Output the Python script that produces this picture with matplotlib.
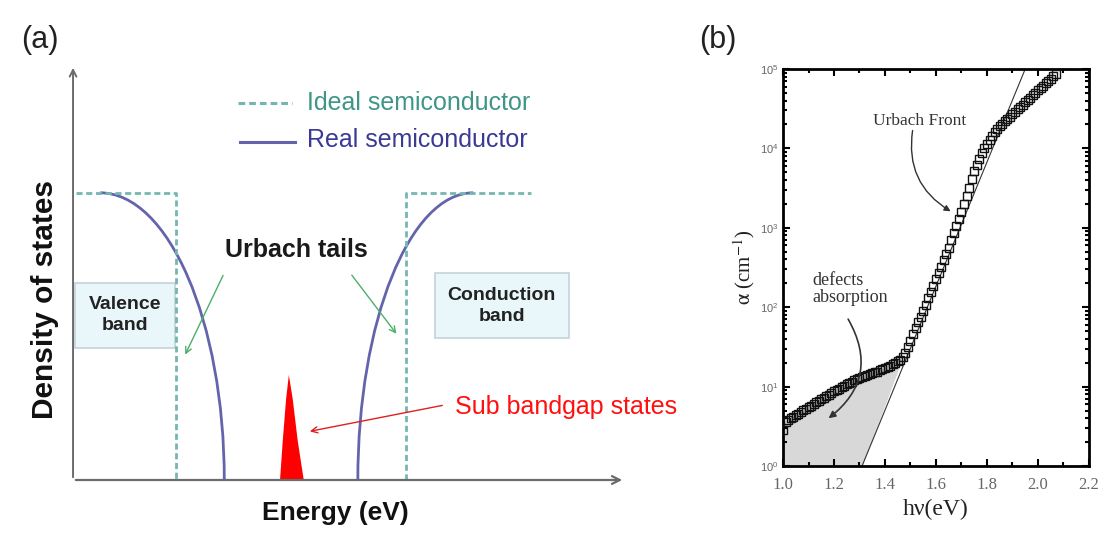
import numpy as np
import matplotlib
matplotlib.use("Agg")
import matplotlib.pyplot as plt
from matplotlib.path import Path
from matplotlib.patches import PathPatch, Rectangle, Polygon
from matplotlib.ticker import MultipleLocator, LogLocator, NullFormatter

plt.rcParams['font.family'] = ['Liberation Sans', 'DejaVu Sans']
plt.rcParams['mathtext.fontset'] = 'stix'

# ---------- panel (a): schematic density of states ----------
dos_top = 6.92
ideal_left_x = [0.05, 1.87, 1.87]
ideal_left_y = [dos_top, dos_top, 0.0]
ideal_right_x = [6.03, 6.03, 8.30]
ideal_right_y = [0.0, dos_top, dos_top]

# bezier control points of the Urbach tails (start, ctrl, ctrl, end)
real_left_x = [0.49, 1.73, 2.74, 2.74]
real_left_y = [dos_top, dos_top, 3.82, 0.0]
real_right_x = [5.16, 5.16, 6.10, 7.25]
real_right_y = [0.0, 3.82, dos_top, dos_top]

# sub bandgap peak outline
peak_x = [3.75, 3.80, 3.86, 3.91, 3.98, 4.07, 4.18]
peak_y = [0.0, 0.95, 1.95, 2.53, 1.95, 0.95, 0.0]

# ---------- panel (b): absorption edge ----------
hv = [1.00, 1.01, 1.02, 1.03, 1.04, 1.05, 1.06, 1.07, 1.08, 1.09,
      1.10, 1.11, 1.12, 1.13, 1.14, 1.15, 1.16, 1.17, 1.18, 1.19,
      1.20, 1.21, 1.22, 1.23, 1.24, 1.25, 1.26, 1.27, 1.28, 1.29,
      1.30, 1.31, 1.32, 1.33, 1.34, 1.35, 1.36, 1.37, 1.38, 1.39,
      1.40, 1.41, 1.42, 1.43, 1.44, 1.45, 1.46, 1.47, 1.48, 1.49,
      1.50, 1.51, 1.52, 1.53, 1.54, 1.55, 1.56, 1.57, 1.58, 1.59,
      1.60, 1.61, 1.62, 1.63, 1.64, 1.65, 1.66, 1.67, 1.68, 1.69,
      1.70, 1.71, 1.72, 1.73, 1.74, 1.75, 1.76, 1.77, 1.78, 1.79,
      1.80, 1.81, 1.82, 1.83, 1.84, 1.85, 1.86, 1.87, 1.88, 1.89,
      1.90, 1.91, 1.92, 1.93, 1.94, 1.95, 1.96, 1.97, 1.98, 1.99,
      2.00, 2.01, 2.02, 2.03, 2.04, 2.05, 2.06, 2.07]
log_alpha = [0.45, 0.55, 0.58, 0.60, 0.62, 0.64, 0.66, 0.68, 0.70, 0.72,
             0.74, 0.76, 0.78, 0.80, 0.82, 0.84, 0.86, 0.88, 0.90, 0.92,
             0.94, 0.96, 0.97, 0.99, 1.01, 1.03, 1.04, 1.06, 1.08, 1.09,
             1.11, 1.12, 1.13, 1.15, 1.16, 1.17, 1.18, 1.19, 1.21, 1.22,
             1.23, 1.25, 1.26, 1.28, 1.30, 1.32, 1.34, 1.37, 1.42, 1.50,
             1.58, 1.66, 1.74, 1.81, 1.88, 1.95, 2.03, 2.11, 2.19, 2.27,
             2.35, 2.43, 2.51, 2.59, 2.67, 2.75, 2.84, 2.93, 3.02, 3.11,
             3.20, 3.30, 3.40, 3.50, 3.62, 3.71, 3.79, 3.87, 3.94, 4.00,
             4.06, 4.11, 4.16, 4.20, 4.24, 4.28, 4.31, 4.34, 4.37, 4.40,
             4.43, 4.46, 4.49, 4.52, 4.55, 4.58, 4.61, 4.64, 4.67, 4.70,
             4.73, 4.76, 4.79, 4.82, 4.85, 4.88, 4.91, 4.94]
alpha = [10 ** v for v in log_alpha]
n_defect = 48  # points up to 1.47 eV bound the shaded defect region

urbach_fit_hv = [1.31, 1.95]
urbach_fit_alpha = [1.0, 1.0e5]

fig = plt.figure(figsize=(11.05, 5.38), dpi=100)

# =========================
# Panel (a)
# =========================
axa = fig.add_axes([0.0661, 0.1078, 0.4995, 0.7714])
axa.set_xlim(0, 10)
axa.set_ylim(0, 10)
axa.axis('off')

axis_col = '#6b6b6b'
axa.annotate('', xy=(10, 0), xytext=(0, 0),
             arrowprops=dict(arrowstyle='->', color=axis_col, lw=1.6, mutation_scale=14),
             annotation_clip=False)
axa.annotate('', xy=(0, 10), xytext=(0, 0),
             arrowprops=dict(arrowstyle='->', color=axis_col, lw=1.4, mutation_scale=12),
             annotation_clip=False)

ideal_col = '#74b7b1'
real_col = '#6464ac'
axa.plot(ideal_left_x, ideal_left_y, color=ideal_col, lw=2, dashes=(2.2, 1.3))
axa.plot(ideal_right_x, ideal_right_y, color=ideal_col, lw=2, dashes=(2.2, 1.3))

codes = [Path.MOVETO, Path.CURVE4, Path.CURVE4, Path.CURVE4]
for xs, ys in [(real_left_x, real_left_y), (real_right_x, real_right_y)]:
    p = Path(list(zip(xs, ys)), codes)
    axa.add_patch(PathPatch(p, fill=False, edgecolor=real_col, lw=2))

axa.add_patch(Polygon(list(zip(peak_x, peak_y)), closed=True,
                      facecolor='#ff0000', edgecolor='none'))

# band boxes
box_face = '#eaf7fa'
box_edge = '#c2d3da'
axa.add_patch(Rectangle((0.04, 3.18), 1.81, 1.57, facecolor=box_face,
                        edgecolor=box_edge, lw=1.2))
axa.add_patch(Rectangle((6.56, 3.42), 2.43, 1.57, facecolor=box_face,
                        edgecolor=box_edge, lw=1.2))
axa.text(0.94, 3.98, 'Valence\nband', ha='center', va='center', fontsize=14,
         fontweight='bold', color='#222222', linespacing=1.3)
axa.text(7.77, 4.20, 'Conduction\nband', ha='center', va='center', fontsize=14,
         fontweight='bold', color='#222222', linespacing=1.3)

# legend
axa.plot([2.99, 3.97], [9.08, 9.08], color=ideal_col, lw=2.2, dashes=(2.2, 1.3))
axa.plot([3.03, 4.02], [8.14, 8.14], color=real_col, lw=2.2)
axa.text(4.24, 9.08, 'Ideal semiconductor', ha='left', va='center',
         fontsize=18, color='#3f9688')
axa.text(4.24, 8.19, 'Real semiconductor', ha='left', va='center',
         fontsize=18, color='#3a3a96')

# Urbach tails label and arrows
axa.text(4.04, 5.54, 'Urbach tails', ha='center', va='center', fontsize=18,
         fontweight='bold', color='#1a1a1a')
green = '#4caf6a'
axa.annotate('', xy=(2.01, 2.96), xytext=(2.74, 4.99),
             arrowprops=dict(arrowstyle='->', color=green, lw=1.0, mutation_scale=11))
axa.annotate('', xy=(5.89, 3.47), xytext=(5.02, 4.99),
             arrowprops=dict(arrowstyle='->', color=green, lw=1.0, mutation_scale=11))

# sub bandgap states
axa.text(6.92, 1.76, 'Sub bandgap states', ha='left', va='center',
         fontsize=18, color='#ff1010', clip_on=False)
axa.annotate('', xy=(4.24, 1.16), xytext=(6.74, 1.81),
             arrowprops=dict(arrowstyle='->', color='#e02020', lw=1.0, mutation_scale=11))

axa.text(-0.51, 4.34, 'Density of states', rotation=90, ha='center', va='center',
         fontsize=21.5, fontweight='bold', color='#111111')
axa.text(4.75, -0.80, 'Energy (eV)', ha='center', va='center',
         fontsize=19, fontweight='bold', color='#111111')
axa.text(-0.60, 10.6, '(a)', ha='center', va='center', fontsize=22, color='#222222')

# =========================
# Panel (b)
# =========================
axb = fig.add_axes([0.7086, 0.1338, 0.2769, 0.738])
axb.set_yscale('log')
axb.set_xlim(1.0, 2.2)
axb.set_ylim(1, 1e5)

fill_x = hv[:n_defect] + [urbach_fit_hv[0], hv[0]]
fill_y = alpha[:n_defect] + [1.0, 1.0]
axb.fill(fill_x, fill_y, color='#d8d8d8', zorder=1)
axb.plot(urbach_fit_hv, urbach_fit_alpha, color='#333333', lw=0.8, zorder=2)
axb.plot(hv, alpha, 's', ms=5.5, mfc='none', mec='#111111', mew=1.0, zorder=3)

for s in axb.spines.values():
    s.set_linewidth(2)
axb.xaxis.set_major_locator(MultipleLocator(0.2))
axb.xaxis.set_minor_locator(MultipleLocator(0.1))
axb.yaxis.set_major_locator(LogLocator(base=10, numticks=10))
axb.yaxis.set_minor_locator(LogLocator(base=10, subs=np.arange(2, 10), numticks=10))
axb.yaxis.set_minor_formatter(NullFormatter())
axb.tick_params(which='both', direction='in', top=True, right=True, width=1.5)
axb.tick_params(which='major', length=5)
axb.tick_params(which='minor', length=3)
axb.tick_params(axis='x', labelsize=12, labelcolor='#666666', pad=8)
axb.tick_params(axis='y', labelsize=8, labelcolor='#666666', pad=3)
for lab in axb.get_xticklabels():
    lab.set_family('Liberation Serif')

axb.set_xlabel('hν(eV)', fontsize=17, family='Liberation Serif', labelpad=4,
               color='#222222')
axb.set_ylabel(r'$\mathrm{\alpha}$ (cm$^{-1}$)', fontsize=15, family='Liberation Serif',
               labelpad=2, color='#222222')

axb.text(1.537, 10 ** 4.35, 'Urbach Front', fontsize=12.5, family='Liberation Serif',
         color='#333333', ha='center', va='center')
axb.annotate('', xy=(1.667, 10 ** 3.19), xytext=(1.51, 10 ** 4.26),
             arrowprops=dict(arrowstyle='-|>', color='#333333', lw=1.0,
                             mutation_scale=9, connectionstyle='arc3,rad=0.35'))
axb.text(1.114, 10 ** 2.23, 'defects\nabsorption', fontsize=13, family='Liberation Serif',
         color='#333333', ha='left', va='center', linespacing=1.0)
axb.annotate('', xy=(1.17, 10 ** 0.58), xytext=(1.25, 10 ** 1.88),
             arrowprops=dict(arrowstyle='-|>', color='#333333', lw=1.2,
                             mutation_scale=10, connectionstyle='arc3,rad=-0.45'))

fig.text(0.650, 0.926, '(b)', ha='center', va='center', fontsize=22, color='#222222')

fig.savefig('out.png', dpi=100)
